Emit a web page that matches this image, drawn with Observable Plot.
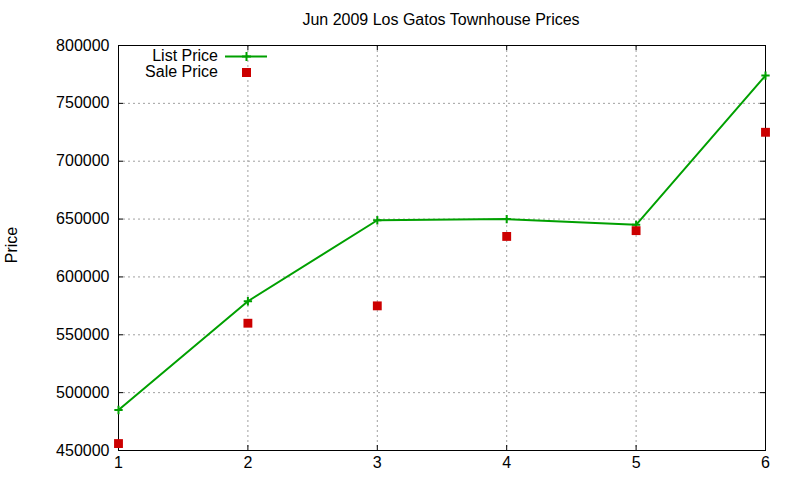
<!DOCTYPE html>
<html>
<head>
<meta charset="utf-8">
<script src="https://cdn.jsdelivr.net/npm/d3@7"></script>
<script src="https://cdn.jsdelivr.net/npm/@observablehq/plot@0.6"></script>
<style>
  html, body { margin: 0; padding: 0; background: #fff; }
  #wrap { position: relative; width: 800px; height: 480px; font-family: "Liberation Sans", Arial, sans-serif; }
  #title { position: absolute; top: 10px; left: 0; width: 882px; text-align: center; font-size: 16px; color: #000; line-height: 20px; }
  #ylabel { position: absolute; left: 12px; top: 245px; transform: translate(-50%, -50%) rotate(-90deg); font-size: 16px; color: #000; white-space: nowrap; }
  #legend { position: absolute; left: 0; top: 44px; font-size: 16px; color: #000; }
  #legend .row { position: absolute; height: 16px; line-height: 16px; white-space: nowrap; }
  #legend .lab { position: absolute; right: 0; }
</style>
</head>
<body>
<div id="wrap">
  <div id="title">Jun 2009 Los Gatos Townhouse Prices</div>
  <div id="ylabel">Price</div>
  <div id="chart"></div>
  <div id="legend"></div>
</div>
<script>
const months = [1, 2, 3, 4, 5, 6];
const listPrice = [485000, 579000, 649000, 650000, 645000, 774000];
const salePrice = [456000, 560000, 575000, 635000, 640000, 725000];
const yTicks = [450000, 500000, 550000, 600000, 650000, 700000, 750000, 800000];
const xTicks = [1, 2, 3, 4, 5, 6];
const seriesNames = ["List Price", "Sale Price"];

const listData = months.map((m, i) => ({x: m, y: listPrice[i]}));
const saleData = months.map((m, i) => ({x: m, y: salePrice[i]}));

const green = "#00a000";
const red = "#cc0000";
const W = 800, H = 480, mL = 118, mR = 35, mT = 45, mB = 30;
const fw = W - mL - mR, fh = H - mT - mB, tk = 5;

const chart = Plot.plot({
  width: W, height: H,
  marginLeft: mL, marginRight: mR, marginTop: mT, marginBottom: mB,
  style: {fontFamily: "'Liberation Sans', Arial, sans-serif", fontSize: "16px", color: "#000", background: "#fff"},
  x: {domain: [1, 6], ticks: xTicks},
  y: {domain: [450000, 800000], ticks: yTicks},
  marks: [
    Plot.gridX(xTicks, {stroke: "#a0a0a0", strokeOpacity: 1, strokeDasharray: "2,3"}),
    Plot.gridY(yTicks, {stroke: "#a0a0a0", strokeOpacity: 1, strokeDasharray: "2,3"}),
    Plot.tickY(yTicks, {y: d => d, stroke: "#000", insetRight: fw - tk}),
    Plot.tickY(yTicks, {y: d => d, stroke: "#000", insetLeft: fw - tk}),
    Plot.tickX(xTicks, {x: d => d, stroke: "#000", insetTop: fh - tk}),
    Plot.tickX(xTicks, {x: d => d, stroke: "#000", insetBottom: fh - tk}),
    Plot.frame({stroke: "#000", strokeWidth: 1}),
    Plot.axisY(yTicks, {tickSize: 0, tickPadding: 9, tickFormat: d => String(d), fontSize: 16, label: null}),
    Plot.axisX(xTicks, {tickSize: 0, tickPadding: 6, tickFormat: d => String(d), fontSize: 16, label: null}),
    Plot.line(listData, {x: "x", y: "y", stroke: green, strokeWidth: 2}),
    Plot.dot(listData, {x: "x", y: "y", symbol: "plus", r: 2.8, stroke: green, strokeWidth: 2}),
    Plot.dot(saleData, {x: "x", y: "y", symbol: "square", r: 5, fill: red, stroke: "none"})
  ]
});
document.getElementById("chart").appendChild(chart);

// legend (gnuplot-style key, top-left inside the plot)
const legend = document.getElementById("legend");
const rows = [
  {name: seriesNames[0], type: "line", top: 4},
  {name: seriesNames[1], type: "square", top: 20}
];
rows.forEach(r => {
  const row = document.createElement("div");
  row.className = "row";
  row.style.top = r.top + "px";
  row.style.left = "0px";
  row.style.width = "218px";
  const lab = document.createElement("span");
  lab.className = "lab";
  lab.textContent = r.name;
  row.appendChild(lab);
  legend.appendChild(row);
  const svg = d3.create("svg").attr("width", 50).attr("height", 16)
    .style("position", "absolute").style("left", "222px").style("top", r.top + "px");
  if (r.type === "line") {
    svg.append("line").attr("x1", 3).attr("x2", 45).attr("y1", 8.5).attr("y2", 8.5)
      .attr("stroke", green).attr("stroke-width", 2);
    svg.append("path").attr("d", "M20,8.5h9M24.5,4v9").attr("stroke", green).attr("stroke-width", 2);
  } else {
    svg.append("rect").attr("x", 20).attr("y", 4).attr("width", 9).attr("height", 9).attr("fill", red);
  }
  legend.appendChild(svg.node());
});
</script>
</body>
</html>
